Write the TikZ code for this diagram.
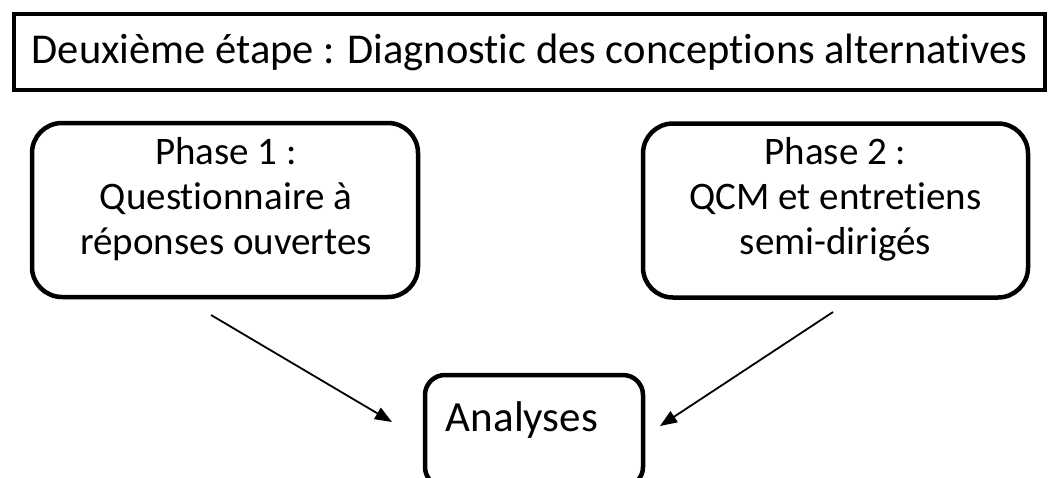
\documentclass[tikz,border=0pt]{standalone}
\usepackage{fontspec}
\setmainfont{Carlito}[Ligatures=NoCommon]
\usetikzlibrary{arrows.meta}
\begin{document}
\begin{tikzpicture}[x=1pt,y=-1pt,
  titlebox/.style={draw,line width=4pt,rectangle,minimum width=1031pt,minimum height=76pt,inner sep=0pt},
  phasebox/.style={draw,line width=4.5pt,rounded corners=30pt,minimum width=386pt,minimum height=174pt,inner sep=0pt},
  anbox/.style={draw,line width=4.5pt,rounded corners=20pt,minimum width=218pt,minimum height=112pt,inner sep=0pt},
  txt/.style={align=center,inner sep=0pt,font=\fontsize{39}{45}\selectfont},
  conn/.style={line width=1.8pt,-{Triangle[length=17pt,width=13pt]}}]
\useasboundingbox (0,0) rectangle (1051,477);
\clip (0,0) rectangle (1051,477);
\node[titlebox,font=\fontsize{42.5}{48}\selectfont] (title) at (529.5,52) {Deuxième étape : Diagnostic des conceptions alternatives};
\node[phasebox] (p1) at (225,210) {};
\node[txt] (p1t) at (226,199.5) {Phase 1 :\\Questionnaire à\\réponses ouvertes};
\node[phasebox,minimum width=385pt] (p2) at (835.5,210.5) {};
\node[txt] (p2t) at (835.5,199.5) {Phase 2 :\\QCM et entretiens\\semi-dirigés};
\node[anbox] (an) at (534,431) {};
\node[txt,font=\fontsize{43}{48}\selectfont] (ant) at (522,420) {Analyses};
\coordinate (a1s) at (211,315);
\coordinate (a1e) at (392,422);
\coordinate (a2s) at (833,312);
\coordinate (a2e) at (660,426);
\draw[conn] (a1s) -- (a1e);
\draw[conn] (a2s) -- (a2e);
\end{tikzpicture}
\end{document}
